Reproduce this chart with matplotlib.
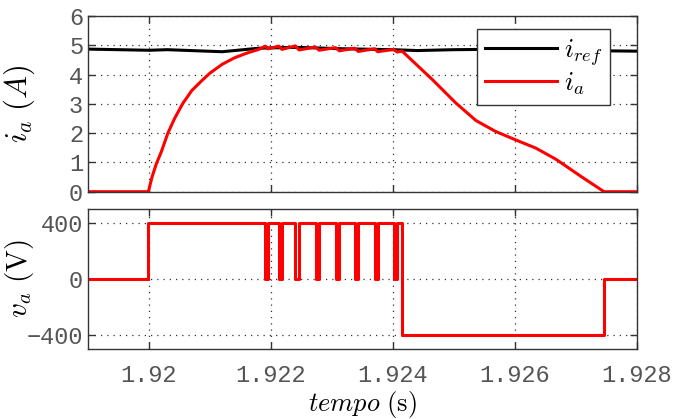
import matplotlib
matplotlib.use("Agg")
import matplotlib.pyplot as plt
import numpy as np

plt.rcParams['mathtext.fontset'] = 'cm'

# ---- data ----
iref_t = [1.9190, 1.9200, 1.9203, 1.9212, 1.9218, 1.9224, 1.9232, 1.9240,
          1.9244, 1.9250, 1.9255, 1.9262, 1.9270, 1.9280]
iref_v = [4.87, 4.83, 4.85, 4.78, 4.90, 4.93, 4.88, 4.85,
          4.82, 4.85, 4.86, 4.85, 4.82, 4.80]

ia_t = [1.91900, 1.91999, 1.92005, 1.92012, 1.92020, 1.92031, 1.92042, 1.92055,
        1.92070, 1.92087, 1.92100, 1.92120, 1.92140, 1.92160, 1.92180, 1.92191,
        1.92195, 1.92213, 1.92218, 1.92240, 1.92246, 1.92273, 1.92279, 1.92306,
        1.92312, 1.92337, 1.92343, 1.92370, 1.92375, 1.92401, 1.92407, 1.92415,
        1.92465, 1.92503, 1.92536, 1.92568, 1.92601, 1.92634, 1.92667, 1.92709,
        1.92746, 1.92800]
ia_v = [0, 0, 0.5, 0.95, 1.35, 2.0, 2.5, 3.0,
        3.45, 3.8, 4.05, 4.35, 4.57, 4.73, 4.86, 4.97,
        4.88, 4.97, 4.86, 4.98, 4.84, 4.94, 4.83, 4.92,
        4.81, 4.90, 4.79, 4.88, 4.78, 4.86, 4.77, 4.80,
        3.82, 3.03, 2.43, 2.06, 1.77, 1.49, 1.11, 0.51,
        0, 0]

va_t = [1.91900, 1.91999, 1.92191, 1.92195, 1.92213, 1.92218, 1.92240, 1.92246,
        1.92273, 1.92279, 1.92306, 1.92312, 1.92337, 1.92343, 1.92370, 1.92375,
        1.92401, 1.92407, 1.92415, 1.92746, 1.92800]
va_v = [0, 400, 0, 400, 0, 400, 0, 400,
        0, 400, 0, 400, 0, 400, 0, 400,
        0, 400, -400, 0, 0]

xticks = [1.920, 1.922, 1.924, 1.926, 1.928]
xticklabels = ['1.92', '1.922', '1.924', '1.926', '1.928']
yticks_i = [0, 1, 2, 3, 4, 5, 6]
yticks_v = [-400, 0, 400]

# ---- figure ----
fig = plt.figure(figsize=(6.96, 4.19), dpi=100)
ax1 = fig.add_axes([0.1264, 0.5425, 0.7888, 0.4193])
ax2 = fig.add_axes([0.1264, 0.1671, 0.7888, 0.3341])

mono = 'Liberation Mono'
grid_kw = dict(color='#333333', linestyle=(0, (1, 4)), linewidth=0.9)

ax1.plot(iref_t, iref_v, color='black', lw=2.2, label=r'$i_{ref}$')
ax1.plot(ia_t, ia_v, color='red', lw=2.2, label=r'$i_a$')
ax1.set_xlim(1.919, 1.928)
ax1.set_ylim(0, 6)
ax1.set_yticks(yticks_i)
ax1.set_xticks(xticks)
ax1.set_xticklabels([])
ax1.set_ylabel(r'$i_a\ (A)$', fontsize=22)
ax1.yaxis.set_label_coords(-0.092, 0.5)
ax1.grid(True, **grid_kw)
leg = ax1.legend(loc='upper right', bbox_to_anchor=(0.951, 0.926), fontsize=19,
                 handlelength=2.75, handletextpad=0.25, borderpad=0.3,
                 labelspacing=0.1, fancybox=False, framealpha=1,
                 edgecolor='#333333', borderaxespad=0)
leg.get_frame().set_linewidth(1.0)

ax2.step(va_t, va_v, where='post', color='red', lw=2.2)
ax2.set_xlim(1.919, 1.928)
ax2.set_ylim(-500, 500)
ax2.set_yticks(yticks_v)
ax2.set_xticks(xticks)
ax2.set_xticklabels(xticklabels)
ax2.set_ylabel(r'$v_a\ (\mathrm{V})$', fontsize=21)
ax2.yaxis.set_label_coords(-0.094, 0.5)
ax2.set_xlabel(r'$tempo\ (\mathrm{s})$', fontsize=19, labelpad=1)
ax2.grid(True, **grid_kw)

for ax in (ax1, ax2):
    ax.tick_params(direction='in', top=True, right=True, length=5,
                   width=1.0, color='#333333', labelsize=17, labelcolor='#555555')
    ax.tick_params(axis='x', pad=11)
    for lab in ax.get_xticklabels() + ax.get_yticklabels():
        lab.set_fontfamily(mono)
    for s in ax.spines.values():
        s.set_color('#333333')
        s.set_linewidth(1.0)

fig.savefig('out.png', dpi=100)
